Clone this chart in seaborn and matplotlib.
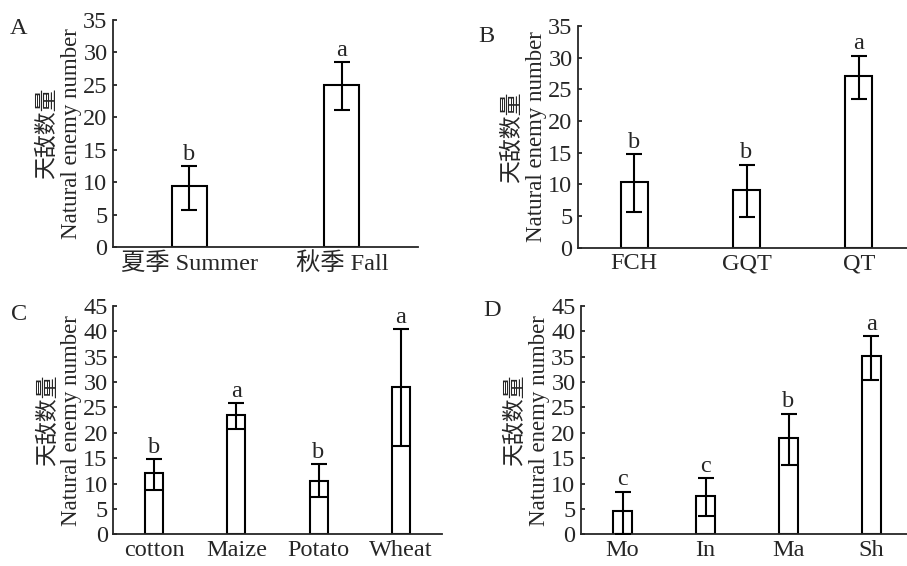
import numpy as np
import pandas as pd
import matplotlib
matplotlib.use("Agg")
import matplotlib.pyplot as plt
import seaborn as sns

# ---- data ----
a_cats = ["夏季 Summer", "秋季 Fall"]
a_mean = [9.4, 25.0]
a_lo = [3.7, 3.9]
a_hi = [3.1, 3.5]
a_sig = ["b", "a"]

b_cats = ["FCH", "GQT", "QT"]
b_mean = [10.3, 9.1, 27.1]
b_lo = [4.7, 4.2, 3.6]
b_hi = [4.5, 4.0, 3.2]
b_sig = ["b", "b", "a"]

c_cats = ["cotton", "Maize", "Potato", "Wheat"]
c_mean = [12.1, 23.6, 10.6, 29.1]
c_lo = [3.4, 2.85, 3.3, 11.6]
c_hi = [2.7, 2.2, 3.25, 11.3]
c_sig = ["b", "a", "b", "a"]

d_cats = ["Mo", "In", "Ma", "Sh"]
d_mean = [4.5, 7.6, 19.0, 35.1]
d_lo = [4.5, 4.0, 5.3, 4.7]
d_hi = [3.9, 3.4, 4.8, 4.0]
d_sig = ["c", "c", "b", "a"]

ylabel = "天敌数量\nNatural enemy number"

sns.set_style("white")
plt.rcParams["font.family"] = ["Liberation Serif", "Noto Sans CJK SC"]
plt.rcParams["axes.linewidth"] = 1.3

fig = plt.figure(figsize=(9.07, 5.66), dpi=100)

panels = [
    ("A", a_cats, a_mean, a_lo, a_hi, a_sig, 35, 0.23, [0.1246, 0.5636, 0.3363, 0.4011], (19, 28)),
    ("B", b_cats, b_mean, b_lo, b_hi, b_sig, 35, 0.24, [0.6373, 0.5624, 0.3716, 0.3917], (486, 36)),
    ("C", c_cats, c_mean, c_lo, c_hi, c_sig, 45, 0.22, [0.1249, 0.0560, 0.3621, 0.4034], (19, 315)),
    ("D", d_cats, d_mean, d_lo, d_hi, d_sig, 45, 0.22, [0.6406, 0.0560, 0.3660, 0.4034], (492, 310)),
]

fs = 17.5
for letter, cats, mean, lo, hi, sig, ymax, w, rect, lpos in panels:
    ax = fig.add_axes(rect)
    df = pd.DataFrame({"cat": cats, "val": mean})
    sns.barplot(data=df, x="cat", y="val", ax=ax, color="white", edgecolor="black",
                linewidth=1.5, width=w, errorbar=None)
    x = np.arange(len(cats))
    ax.errorbar(x, mean, yerr=[lo, hi], fmt="none", ecolor="black", elinewidth=1.5,
                capsize=5.5, capthick=1.5, zorder=5)
    for xi, m, h, s in zip(x, mean, hi, sig):
        ax.annotate(s, (xi, m + h), xytext=(0, 1), textcoords="offset points",
                    ha="center", va="bottom", fontsize=fs)
    ax.set_xlim(-0.5, len(cats) - 0.5)
    ax.set_ylim(0, ymax)
    ax.set_yticks(np.arange(0, ymax + 1, 5))
    ax.set_xticks(x)
    ax.set_xticks(np.arange(0.5, len(cats) - 0.5, 1), minor=True)
    ax.tick_params(axis="x", which="major", length=0, labelsize=fs, pad=4)
    ax.tick_params(axis="x", which="minor", direction="in", length=3, width=1.3)
    ax.tick_params(axis="y", direction="in", length=3, width=1.3, labelsize=fs, pad=4, left=True)
    for sp in ["top", "right"]:
        ax.spines[sp].set_visible(False)
    ax.set_xlabel("")
    ax.set_ylabel(ylabel, fontsize=16.5, linespacing=1.15, labelpad=1)
    fig.text(lpos[0] / 907, 1 - lpos[1] / 566, letter, fontsize=fs, ha="center", va="center")

fig.savefig("out.png", dpi=100)
